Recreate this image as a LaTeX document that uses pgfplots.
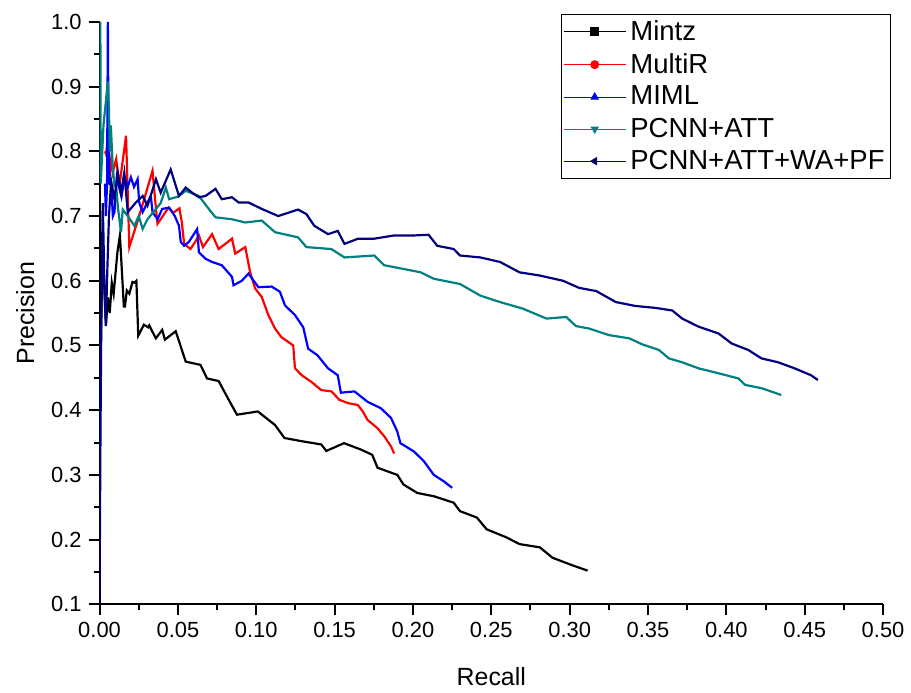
\documentclass[border=0pt]{standalone}
\usepackage{pgfplots}
\pgfplotsset{compat=1.18}
\usepackage{fontspec}
\setmainfont{Liberation Sans}
\definecolor{cteal}{RGB}{0,128,128}
\definecolor{cnavy}{RGB}{0,0,128}
\pgfplotsset{
  legimg/.style={legend image code/.code={%
    \draw[line width=0.5pt,mark=#1,mark size=2pt,mark repeat=2,mark phase=2]
      plot coordinates {(0cm,0cm) (0.55cm,0cm) (1.1cm,0cm)};}},
}
\begin{document}
\begin{tikzpicture}
\begin{axis}[
  scale only axis,
  width=393.5pt, height=292.5pt,
  xmin=0, xmax=0.5, ymin=0.1, ymax=1.0,
  axis x line*=bottom, axis y line*=left,
  axis line style={line width=1pt,-},
  xtick={0,0.05,0.1,0.15,0.2,0.25,0.3,0.35,0.4,0.45,0.5},
  ytick={0.1,0.2,0.3,0.4,0.5,0.6,0.7,0.8,0.9,1.0},
  minor x tick num=1, minor y tick num=1,
  tick align=outside,
  major tick length=5.5pt, minor tick length=3pt,
  every tick/.style={line width=1pt, black},
  /pgf/number format/assume math mode=true,
  xticklabel style={/pgf/number format/.cd, fixed, fixed zerofill, precision=2},
  yticklabel style={/pgf/number format/.cd, fixed, fixed zerofill, precision=1},
  tick label style={font=\fontsize{11}{13}\selectfont},
  xlabel={Recall}, ylabel={Precision},
  label style={font=\fontsize{12.5}{15}\selectfont},
  xlabel style={at={(axis description cs:0.5,-0.125)}, anchor=center},
  ylabel style={at={(axis description cs:-0.095,0.5)}, anchor=center},
  legend style={at={(axis description cs:1.0102,1.0137)}, anchor=north east,
    draw=black, line width=0.5pt, font=\fontsize{13.8}{16}\selectfont,
    inner sep=1pt, row sep=1pt},
  legend cell align=left,
]
% Mintz
\addplot[black, line width=1.1pt, legimg=square*] coordinates {
(0.0008,0.50)(0.002,0.66)(0.0035,0.56)(0.0041,0.532)(0.0053,0.574)(0.0065,0.55)(0.0078,0.597)(0.009,0.58)(0.0114,0.644)(0.013,0.67)(0.0155,0.56)(0.0162,0.56)(0.0174,0.585)(0.019,0.58)(0.021,0.598)(0.0223,0.597)(0.0235,0.600)(0.0247,0.515)(0.0283,0.532)(0.031,0.528)(0.0317,0.531)(0.0359,0.511)(0.040,0.524)(0.0417,0.509)(0.0486,0.522)(0.055,0.475)(0.0644,0.470)(0.0686,0.449)(0.076,0.445)(0.082,0.418)(0.0877,0.393)(0.101,0.398)(0.112,0.377)(0.118,0.357)(0.129,0.352)(0.1415,0.347)(0.1447,0.337)(0.156,0.349)(0.1669,0.339)(0.174,0.331)(0.1774,0.311)(0.190,0.300)(0.194,0.285)(0.2028,0.272)(0.2133,0.267)(0.226,0.257)(0.230,0.244)(0.2408,0.234)(0.247,0.216)(0.260,0.203)(0.268,0.193)(0.281,0.188)(0.289,0.172)(0.302,0.160)(0.3115,0.152)
};
\addlegendentry{Mintz}
% MultiR
\addplot[red, line width=1.1pt, legimg=*] coordinates {
(0.0035,0.80)(0.0042,0.795)(0.0053,0.824)(0.0063,0.762)(0.0074,0.787)(0.0084,0.767)(0.0106,0.788)(0.0127,0.747)(0.0169,0.824)(0.019,0.652)(0.0253,0.700)(0.0338,0.770)(0.036,0.711)(0.037,0.688)(0.044,0.713)(0.047,0.705)(0.051,0.712)(0.0525,0.690)(0.054,0.657)(0.058,0.649)(0.061,0.660)(0.0634,0.670)(0.066,0.652)(0.0718,0.672)(0.076,0.649)(0.0845,0.665)(0.0866,0.642)(0.093,0.652)(0.0961,0.613)(0.0993,0.588)(0.1035,0.575)(0.1077,0.547)(0.112,0.526)(0.116,0.513)(0.1236,0.500)(0.1247,0.4646)(0.129,0.454)(0.135,0.444)(0.1415,0.431)(0.148,0.429)(0.153,0.416)(0.1584,0.411)(0.1648,0.408)(0.168,0.398)(0.171,0.385)(0.1774,0.372)(0.1817,0.3596)(0.186,0.344)(0.188,0.333)
};
\addlegendentry{MultiR}
% MIML
\addplot[blue, line width=1.1pt, legimg=triangle*] coordinates {
(0.0035,0.75)(0.004,0.70)(0.0048,0.75)(0.0053,1.0)(0.0055,0.91)(0.006,0.80)(0.0063,0.75)(0.0074,0.747)(0.0085,0.700)(0.0095,0.706)(0.011,0.76)(0.012,0.75)(0.014,0.73)(0.016,0.76)(0.018,0.745)(0.020,0.76)(0.022,0.745)(0.0243,0.757)(0.0253,0.721)(0.0275,0.706)(0.0306,0.721)(0.0327,0.731)(0.0338,0.706)(0.037,0.695)(0.040,0.711)(0.0444,0.713)(0.048,0.700)(0.0507,0.685)(0.0518,0.660)(0.0539,0.654)(0.057,0.660)(0.0623,0.680)(0.0634,0.644)(0.0676,0.634)(0.0718,0.629)(0.078,0.624)(0.0845,0.606)(0.0855,0.593)(0.0908,0.600)(0.095,0.611)(0.1014,0.590)(0.1098,0.591)(0.1151,0.583)(0.1183,0.562)(0.1247,0.547)(0.130,0.528)(0.1331,0.495)(0.139,0.485)(0.1458,0.4646)(0.152,0.454)(0.154,0.427)(0.1627,0.429)(0.171,0.413)(0.1795,0.403)(0.186,0.388)(0.190,0.367)(0.192,0.349)(0.2007,0.336)(0.207,0.321)(0.2133,0.300)(0.2197,0.290)(0.225,0.280)
};
\addlegendentry{MIML}
% PCNN+ATT
\addplot[cteal, line width=1.1pt, legimg={triangle*,mark options={rotate=180}}] coordinates {
(0.0005,1.0)(0.0008,0.75)(0.0025,0.84)(0.0053,0.908)(0.006,0.865)(0.0065,0.80)(0.0072,0.84)(0.0084,0.777)(0.0095,0.747)(0.0105,0.75)(0.0116,0.716)(0.0137,0.675)(0.0148,0.71)(0.018,0.70)(0.0222,0.685)(0.025,0.70)(0.0275,0.68)(0.0306,0.695)(0.036,0.711)(0.039,0.72)(0.0423,0.744)(0.0444,0.726)(0.050,0.73)(0.055,0.739)(0.0634,0.731)(0.0697,0.711)(0.074,0.698)(0.0845,0.695)(0.093,0.690)(0.1035,0.693)(0.112,0.675)(0.1267,0.667)(0.132,0.652)(0.1479,0.649)(0.1563,0.636)(0.1753,0.639)(0.1816,0.624)(0.1944,0.618)(0.2049,0.613)(0.2134,0.603)(0.230,0.595)(0.243,0.577)(0.2556,0.567)(0.270,0.557)(0.2852,0.5415)(0.2978,0.544)(0.304,0.530)(0.3126,0.526)(0.325,0.516)(0.338,0.511)(0.3465,0.5015)(0.357,0.493)(0.3633,0.480)(0.3718,0.474)(0.3823,0.4646)(0.395,0.457)(0.4077,0.449)(0.412,0.439)(0.4224,0.434)(0.435,0.4235)
};
\addlegendentry{PCNN+ATT}
% PCNN+ATT+WA+PF
\addplot[cnavy, line width=1.1pt, legimg={triangle*,mark options={rotate=90}}] coordinates {
(0,0.1)(0.0005,0.33)(0.001,0.50)(0.0015,0.62)(0.002,0.72)(0.0025,0.67)(0.003,0.60)(0.004,0.53)(0.005,0.62)(0.006,0.70)(0.0074,0.754)(0.0095,0.726)(0.0116,0.767)(0.0137,0.736)(0.0158,0.767)(0.018,0.706)(0.0232,0.721)(0.0275,0.731)(0.0306,0.716)(0.036,0.757)(0.039,0.736)(0.0454,0.772)(0.0486,0.747)(0.0507,0.731)(0.055,0.744)(0.0591,0.736)(0.0634,0.729)(0.0676,0.731)(0.074,0.742)(0.078,0.726)(0.0845,0.729)(0.0887,0.721)(0.095,0.721)(0.1035,0.711)(0.114,0.700)(0.1267,0.710)(0.132,0.703)(0.137,0.685)(0.1458,0.672)(0.152,0.677)(0.1563,0.657)(0.165,0.665)(0.1753,0.665)(0.188,0.670)(0.2007,0.670)(0.210,0.671)(0.2155,0.654)(0.226,0.649)(0.230,0.639)(0.243,0.636)(0.2556,0.629)(0.268,0.613)(0.281,0.608)(0.2957,0.600)(0.306,0.589)(0.317,0.584)(0.3295,0.567)(0.342,0.561)(0.3549,0.558)(0.3655,0.554)(0.3718,0.5415)(0.3823,0.529)(0.395,0.5185)(0.4034,0.503)(0.414,0.493)(0.4224,0.480)(0.433,0.474)(0.4436,0.4646)(0.454,0.454)(0.4584,0.4466)
};
\addlegendentry{PCNN+ATT+WA+PF}
\end{axis}
\path ([xshift=-50pt,yshift=-42pt]current axis.south west);
\path ([xshift=12pt,yshift=11pt]current axis.north east);
\end{tikzpicture}
\end{document}
